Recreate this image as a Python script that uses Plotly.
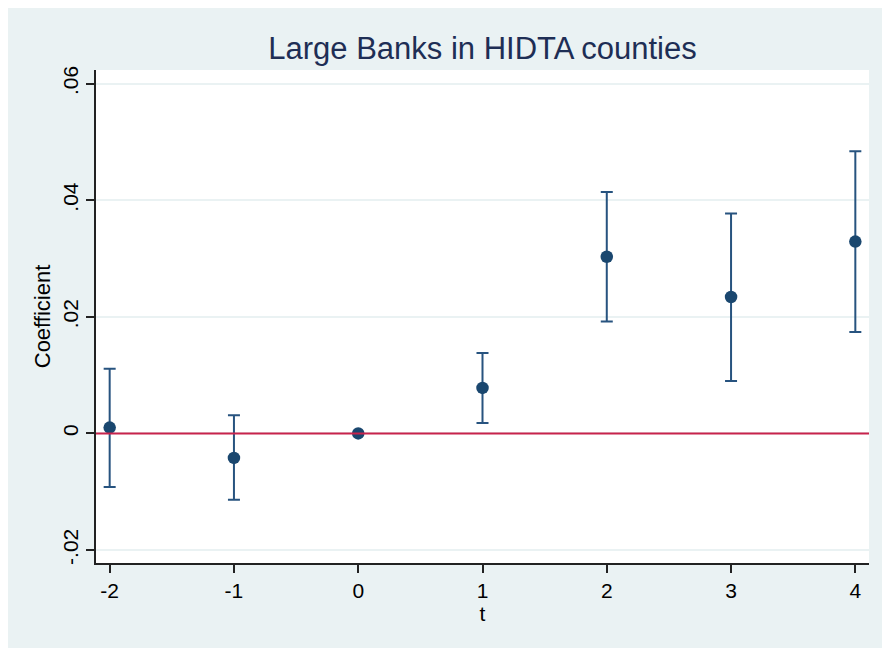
import plotly.graph_objects as go

# Event-study estimates by period relative to treatment
t = [-2, -1, 0, 1, 2, 3, 4]
coef = [0.0010, -0.0042, 0.0, 0.0078, 0.0303, 0.0234, 0.0329]
ci_low = [-0.0092, -0.0114, 0.0, 0.0018, 0.0192, 0.0090, 0.0174]
ci_high = [0.0111, 0.0031, 0.0, 0.0138, 0.0414, 0.0377, 0.0484]

y_ticks = [-0.02, 0.0, 0.02, 0.04, 0.06]
y_ticktext = ["-.02", "0", ".02", ".04", ".06"]
x_ticks = [-2, -1, 0, 1, 2, 3, 4]
x_ticktext = ["-2", "-1", "0", "1", "2", "3", "4"]

NAVY = "#1a476f"
BG = "#eaf2f3"
FONT = "Liberation Sans, Arial, sans-serif"

W, H = 882, 648
ML, MR, MT, MB = 96, 13, 70, 85
pw, ph = W - ML - MR, H - MT - MB

# periods with a confidence interval (the reference period has none)
ci_idx = [i for i in range(len(t)) if ci_high[i] != ci_low[i]]

fig = go.Figure()

fig.add_trace(go.Scatter(
    x=[t[i] for i in ci_idx],
    y=[coef[i] for i in ci_idx],
    mode="markers",
    marker=dict(size=1, color="rgba(0,0,0,0)"),
    error_y=dict(
        type="data", symmetric=False,
        array=[ci_high[i] - coef[i] for i in ci_idx],
        arrayminus=[coef[i] - ci_low[i] for i in ci_idx],
        color="#27537f", thickness=2, width=6,
    ),
    hoverinfo="skip", showlegend=False,
))

fig.add_trace(go.Scatter(
    x=t, y=coef, mode="markers",
    marker=dict(size=12.5, color=NAVY),
    showlegend=False,
))

# zero reference line
fig.add_shape(type="line", xref="paper", yref="y", x0=0, x1=1, y0=0, y1=0,
              line=dict(color="#c8234c", width=2), layer="above")

# outer panel and white plot region
fig.add_shape(type="rect", xref="paper", yref="paper",
              x0=(8 - ML) / pw, x1=(W - ML) / pw,
              y0=-(MB + 2) / ph, y1=(H - MB - 8) / ph,
              fillcolor=BG, line=dict(width=0), layer="below")
fig.add_shape(type="rect", xref="paper", yref="paper",
              x0=0, x1=1, y0=0, y1=1,
              fillcolor="white", line=dict(width=0), layer="below")

fig.update_layout(
    width=W, height=H,
    margin=dict(l=ML, r=MR, t=MT, b=MB),
    paper_bgcolor="white", plot_bgcolor="white",
    font=dict(family=FONT, color="black", size=21),
    title=dict(text="Large Banks in HIDTA counties",
               font=dict(size=31, color="#1e2e55", family=FONT),
               x=(ML + pw / 2) / W, xanchor="center",
               y=1 - 48 / H, yanchor="middle"),
    xaxis=dict(range=[-2.11, 4.11], tickvals=x_ticks, ticktext=x_ticktext,
               ticks="outside", ticklen=8, tickwidth=1.5, tickcolor="#222",
               tickfont=dict(size=21),
               showline=True, linecolor="#222", linewidth=1.5,
               showgrid=False, zeroline=False,
               title=dict(text="t", standoff=5, font=dict(size=21))),
    yaxis=dict(range=[-0.02223, 0.06233], tickvals=y_ticks, ticktext=y_ticktext,
               tickangle=-90, tickfont=dict(size=21),
               ticks="outside", ticklen=8, tickwidth=1.5, tickcolor="#222",
               showline=True, linecolor="#222", linewidth=1.5,
               showgrid=True, gridcolor=BG, gridwidth=1.5, zeroline=False,
               title=dict(text="Coefficient", standoff=2, font=dict(size=22))),
)

fig.write_html("out.html")
